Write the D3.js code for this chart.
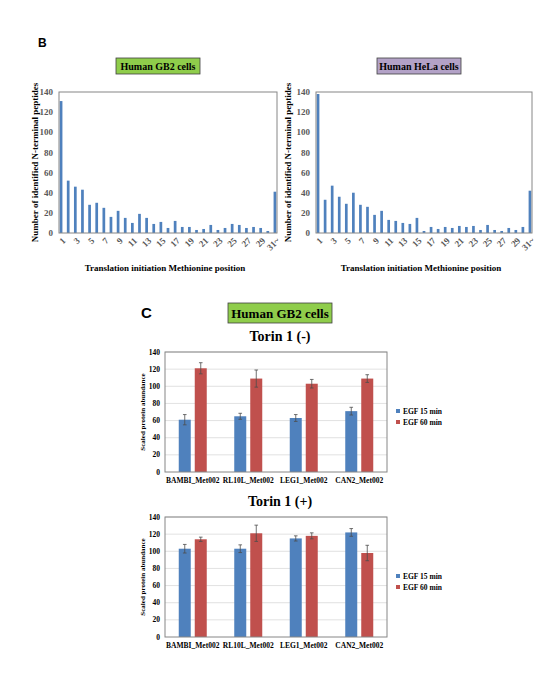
<!DOCTYPE html>
<html>
<head>
<meta charset="utf-8">
<script src="https://cdn.jsdelivr.net/npm/d3@7"></script>
<style>
  body { margin: 0; background: #fff; }
  svg { display: block; }
</style>
</head>
<body>
<svg></svg>
<script>
// ---- data ----
const positions = ["1","2","3","4","5","6","7","8","9","10","11","12","13","14","15","16","17","18","19","20","21","22","23","24","25","26","27","28","29","30","31~"]
const gb2Counts = [131,52,46,43,28,30,25,16,22,15,10,19,15,9,11,5,12,6,6,3,4,8,3,5,9,8,5,6,5,2,41]
const helaCounts = [138,33,47,36,29,40,28,26,18,22,13,12,10,9,15,2,6,4,6,5,7,6,7,3,8,3,2,5,3,6,42]
const histTicks = [0,20,40,60,80,100,120,140]

const proteins = ["BAMBI_Met002","RL10L_Met002","LEG1_Met002","CAN2_Met002"]
const series = ["EGF 15 min","EGF 60 min"]
const torinMinus15 = [61,65,63,71]
const torinMinus60 = [121,109,103,109]
const torinMinus15Err = [6,3.5,4,4.5]
const torinMinus60Err = [6.5,10,5,4.5]
const torinPlus15 = [103,103,115,122]
const torinPlus60 = [114,121,118,98]
const torinPlus15Err = [5,4.5,3,4.5]
const torinPlus60Err = [2.5,9.5,3.5,9]
const barTicks = [0,20,40,60,80,100,120,140]

const svgWidth = 557
const svgHeight = 681
const blue = "#4f81bd"
const red = "#c0504d"
const serif = "'Liberation Serif', 'Times New Roman', serif"
const sans = "'Liberation Sans', Arial, sans-serif"

const svg = d3.select("svg")
    .attr("width", svgWidth)
    .attr("height", svgHeight)
    .style("font-family", serif)

function titleBox(cx, y, w, h, label, fill, size) {
    svg.append("rect")
        .attr("x", cx - w / 2)
        .attr("y", y)
        .attr("width", w)
        .attr("height", h)
        .attr("fill", fill)
        .attr("stroke", "#404040")
        .attr("stroke-width", 0.8)
    svg.append("text")
        .text(label)
        .attr("x", cx)
        .attr("y", y + h / 2)
        .attr("dy", "0.36em")
        .attr("text-anchor", "middle")
        .attr("font-weight", "bold")
        .attr("font-size", size)
}

// ---- panel B: histograms ----
function drawHist(left, right, counts, title, fill, yLabelX) {
    const top = 92, bottom = 233
    const xScale = d3.scaleBand()
        .domain(positions)
        .range([left, right])
        .paddingInner(0.62)
        .paddingOuter(0.1)
    const yScale = d3.scaleLinear()
        .domain([0, 140])
        .range([bottom, top])

    titleBox((left + right) / 2 - 10 + (title.indexOf("HeLa") > -1 ? 5 : 0), 58, 84, 16, title, fill, 10)

    const g = svg.append("g")
    g.selectAll(".bar")
        .data(counts)
        .join("rect")
        .attr("x", (d, i) => xScale(positions[i]))
        .attr("y", (d) => yScale(d))
        .attr("width", xScale.bandwidth())
        .attr("height", (d) => yScale(0) - yScale(d))
        .attr("fill", blue)

    g.append("rect")
        .attr("x", left)
        .attr("y", top)
        .attr("width", right - left)
        .attr("height", bottom - top)
        .attr("fill", "none")
        .attr("stroke", "#868686")
        .attr("stroke-width", 1)

    g.selectAll(".ytick")
        .data(histTicks)
        .join("text")
        .text((d) => d)
        .attr("x", left - 6)
        .attr("y", (d) => yScale(d))
        .attr("dy", "0.35em")
        .attr("text-anchor", "end")
        .attr("font-size", 9)
        .attr("font-weight", "bold")
        .attr("fill", "#595959")

    g.selectAll(".xtick")
        .data(positions.filter((d, i) => i % 2 === 0))
        .join("text")
        .text((d) => d)
        .attr("transform", (d) => `translate(${xScale(d) + xScale.bandwidth() / 2 + 3},${bottom + 6}) rotate(-45)`)
        .attr("text-anchor", "end")
        .attr("dy", "0.35em")
        .attr("font-size", 9)
        .attr("font-weight", "bold")
        .attr("fill", "#595959")

    g.append("text")
        .text("Number of identified N-terminal peptides")
        .attr("transform", `translate(${yLabelX},${(top + bottom) / 2}) rotate(-90)`)
        .attr("text-anchor", "middle")
        .attr("dy", "0.35em")
        .attr("font-size", 9)
        .attr("font-weight", "bold")

    g.append("text")
        .text("Translation initiation Methionine position")
        .attr("x", (left + right) / 2 - 3)
        .attr("y", 268)
        .attr("dy", "0.35em")
        .attr("text-anchor", "middle")
        .attr("font-size", 9)
        .attr("font-weight", "bold")
}

svg.append("text")
    .text("B")
    .attr("x", 38)
    .attr("y", 47)
    .attr("font-family", sans)
    .attr("font-weight", "bold")
    .attr("font-size", 12)

drawHist(59, 277, gb2Counts, "Human GB2 cells", "#8fcd4b", 35)
drawHist(316, 532, helaCounts, "Human HeLa cells", "#b3a2c7", 288)

// ---- panel C: grouped bars with error bars ----
svg.append("text")
    .text("C")
    .attr("x", 141)
    .attr("y", 318)
    .attr("font-family", sans)
    .attr("font-weight", "bold")
    .attr("font-size", 15)

titleBox(280, 303, 104, 20, "Human GB2 cells", "#8fcd4b", 13)

function drawBars(top, bottom, title, v15, v60, e15, e60) {
    const left = 165, right = 387
    const x0 = d3.scaleBand()
        .domain(proteins)
        .range([left, right])
    const x1 = d3.scaleBand()
        .domain(series)
        .range([x0.bandwidth() / 2 - 14, x0.bandwidth() / 2 + 14])
        .paddingInner(0.25)
    const yScale = d3.scaleLinear()
        .domain([0, 140])
        .range([bottom, top])

    svg.append("text")
        .text(title)
        .attr("x", 280)
        .attr("y", top - 11)
        .attr("text-anchor", "middle")
        .attr("font-weight", "bold")
        .attr("font-size", 14)

    const g = svg.append("g")

    g.selectAll(".grid")
        .data(barTicks.slice(1))
        .join("line")
        .attr("x1", left)
        .attr("x2", right)
        .attr("y1", (d) => yScale(d))
        .attr("y2", (d) => yScale(d))
        .attr("stroke", "#d9d9d9")
        .attr("stroke-width", 0.8)

    const rows = proteins.map((p, i) => [
        { p: p, s: series[0], v: v15[i], e: e15[i], c: blue },
        { p: p, s: series[1], v: v60[i], e: e60[i], c: red }
    ]).flat()

    g.selectAll(".bar")
        .data(rows)
        .join("rect")
        .attr("x", (d) => x0(d.p) + x1(d.s))
        .attr("y", (d) => yScale(d.v))
        .attr("width", x1.bandwidth())
        .attr("height", (d) => yScale(0) - yScale(d.v))
        .attr("fill", (d) => d.c)

    const err = g.selectAll(".err")
        .data(rows)
        .join("g")
        .attr("stroke", "#4d4d4d")
        .attr("stroke-width", 0.8)
    err.append("line")
        .attr("x1", (d) => x0(d.p) + x1(d.s) + x1.bandwidth() / 2)
        .attr("x2", (d) => x0(d.p) + x1(d.s) + x1.bandwidth() / 2)
        .attr("y1", (d) => yScale(d.v - d.e))
        .attr("y2", (d) => yScale(d.v + d.e))
    err.append("line")
        .attr("x1", (d) => x0(d.p) + x1(d.s) + x1.bandwidth() / 2 - 1.8)
        .attr("x2", (d) => x0(d.p) + x1(d.s) + x1.bandwidth() / 2 + 1.8)
        .attr("y1", (d) => yScale(d.v + d.e))
        .attr("y2", (d) => yScale(d.v + d.e))
    err.append("line")
        .attr("x1", (d) => x0(d.p) + x1(d.s) + x1.bandwidth() / 2 - 1.8)
        .attr("x2", (d) => x0(d.p) + x1(d.s) + x1.bandwidth() / 2 + 1.8)
        .attr("y1", (d) => yScale(d.v - d.e))
        .attr("y2", (d) => yScale(d.v - d.e))

    g.append("rect")
        .attr("x", left)
        .attr("y", top)
        .attr("width", right - left)
        .attr("height", bottom - top)
        .attr("fill", "none")
        .attr("stroke", "#868686")
        .attr("stroke-width", 1)

    g.selectAll(".ytick")
        .data(barTicks)
        .join("text")
        .text((d) => d)
        .attr("x", left - 5)
        .attr("y", (d) => yScale(d))
        .attr("dy", "0.35em")
        .attr("text-anchor", "end")
        .attr("font-size", 7.5)
        .attr("font-weight", "bold")

    g.selectAll(".xtick")
        .data(proteins)
        .join("text")
        .text((d) => d)
        .attr("x", (d) => x0(d) + x0.bandwidth() / 2)
        .attr("y", bottom + 11)
        .attr("text-anchor", "middle")
        .attr("font-size", 7.5)
        .attr("font-weight", "bold")

    g.append("text")
        .text("Scaled protein abundance")
        .attr("transform", `translate(143,${(top + bottom) / 2}) rotate(-90)`)
        .attr("text-anchor", "middle")
        .attr("dy", "0.35em")
        .attr("font-size", 7)
        .attr("font-weight", "bold")

    const legend = g.selectAll(".legend")
        .data(series)
        .join("g")
        .attr("transform", (d, i) => `translate(396,${(top + bottom) / 2 - 1 + i * 11})`)
    legend.append("rect")
        .attr("x", 0)
        .attr("y", -2)
        .attr("width", 4)
        .attr("height", 4)
        .attr("fill", (d, i) => i === 0 ? blue : red)
    legend.append("text")
        .text((d) => d)
        .attr("x", 7)
        .attr("dy", "0.35em")
        .attr("font-size", 7.5)
        .attr("font-weight", "bold")
}

drawBars(352, 472, "Torin 1 (-)", torinMinus15, torinMinus60, torinMinus15Err, torinMinus60Err)
drawBars(517, 637, "Torin 1 (+)", torinPlus15, torinPlus60, torinPlus15Err, torinPlus60Err)
</script>
</body>
</html>
